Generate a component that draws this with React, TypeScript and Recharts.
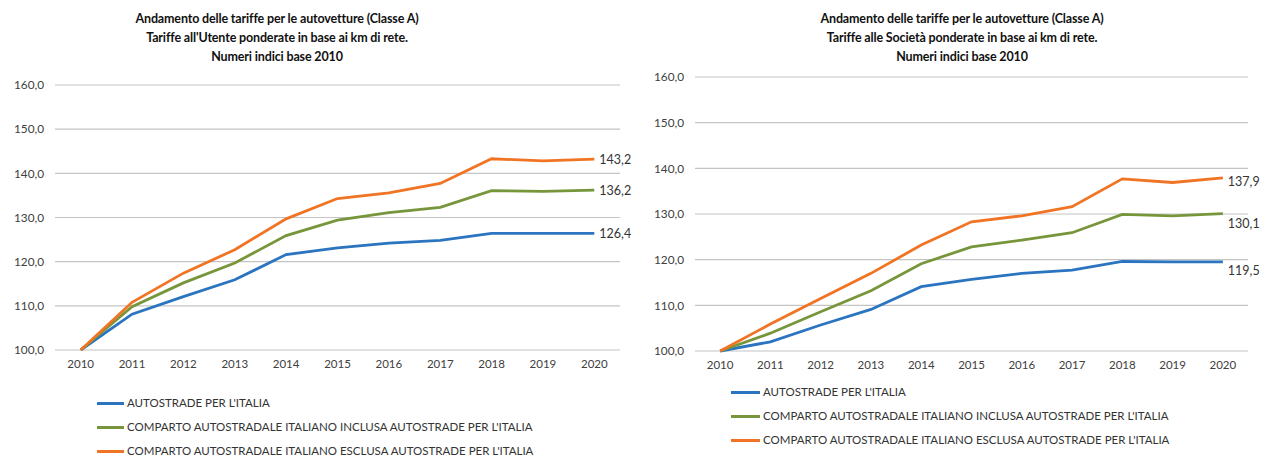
import { LineChart, Line, XAxis, YAxis, CartesianGrid } from 'recharts';

const YEARS = ['2010', '2011', '2012', '2013', '2014', '2015', '2016', '2017', '2018', '2019', '2020'];
const Y_TICKS = [100, 110, 120, 130, 140, 150, 160];

// Tariffe all'Utente
const UTENTE_ASPI = [100, 108.1, 112.1, 115.9, 121.6, 123.1, 124.2, 124.8, 126.4, 126.4, 126.4];
const UTENTE_INCLUSA = [100, 109.8, 115.2, 119.7, 125.9, 129.4, 131.1, 132.3, 136.1, 135.9, 136.2];
const UTENTE_ESCLUSA = [100, 110.8, 117.4, 122.7, 129.7, 134.3, 135.6, 137.7, 143.3, 142.8, 143.2];

// Tariffe alle Società
const SOCIETA_ASPI = [100, 102.0, 105.7, 109.1, 114.1, 115.7, 117.0, 117.7, 119.6, 119.5, 119.5];
const SOCIETA_INCLUSA = [100, 103.9, 108.6, 113.2, 119.1, 122.8, 124.3, 125.9, 129.9, 129.6, 130.1];
const SOCIETA_ESCLUSA = [100, 105.9, 111.5, 117.0, 123.2, 128.3, 129.6, 131.6, 137.7, 136.9, 137.9];

const SERIES_NAMES = [
  "AUTOSTRADE PER L'ITALIA",
  "COMPARTO AUTOSTRADALE ITALIANO INCLUSA AUTOSTRADE PER L'ITALIA",
  "COMPARTO AUTOSTRADALE ITALIANO ESCLUSA AUTOSTRADE PER L'ITALIA",
];
const COLORS = ['#2a74c0', '#77963b', '#f07424'];
const KEYS = ['aspi', 'inclusa', 'esclusa'];

const FONT = 'Lato, "Open Sans", sans-serif';
const fmt = (v: number) => v.toFixed(1).replace('.', ',');

interface ChartProps {
  left: number;
  width: number;
  titleCenter: number;
  titles: string[];
  series: number[][];
  top: number;
  bottom: number;
  labelDy: number[];
  legendTop: number;
  legendLeft: number;
  legendLineW: number;
}

function TariffChart({ left, width, titleCenter, titles, series, top, bottom, labelDy, legendTop, legendLeft, legendLineW }: ChartProps) {
  const data = YEARS.map((year, i) => ({
    year,
    aspi: series[0][i],
    inclusa: series[1][i],
    esclusa: series[2][i],
  }));
  const last = YEARS.length - 1;
  const height = 457;
  const plotW = width - 55 - 22;
  const half = plotW / YEARS.length / 2;

  return (
    <div style={{ position: 'absolute', left, top: 0, width, height }}>
      <div
        style={{
          position: 'absolute',
          left: titleCenter - 200,
          width: 400,
          top: 9,
          textAlign: 'center',
          fontFamily: FONT,
          fontWeight: 700,
          fontSize: 12.5,
          lineHeight: '19px',
          color: '#111',
          letterSpacing: -0.15,
        }}
      >
        {titles.map((t) => (
          <div key={t}>{t}</div>
        ))}
      </div>
      <LineChart
        width={width}
        height={height}
        data={data}
        margin={{ top, right: 22, left: 0, bottom: height - bottom - 30 }}
      >
        <CartesianGrid vertical={false} stroke="#c4c4c4" strokeWidth={1.2} />
        <XAxis
          dataKey="year"
          axisLine={false}
          tickLine={false}
          height={30}
          tickMargin={4}
          padding={{ left: half, right: half }}
          interval={0}
          tick={{ fill: '#404040', fontSize: 11.5, fontFamily: FONT }}
        />
        <YAxis
          width={55}
          domain={[100, 160]}
          ticks={Y_TICKS}
          axisLine={false}
          tickLine={false}
          tickFormatter={fmt}
          tick={{ fill: '#404040', fontSize: 11.8, fontFamily: FONT, dx: -3 }}
        />
        {KEYS.map((k, si) => (
          <Line
            key={k}
            dataKey={k}
            type="linear"
            stroke={COLORS[si]}
            strokeWidth={2.8}
            dot={false}
            activeDot={false}
            isAnimationActive={false}
            label={(p: any) =>
              p.index === last ? (
                <text
                  key={`lbl-${k}`}
                  x={p.x + 5}
                  y={p.y + labelDy[si]}
                  dominantBaseline="central"
                  fill="#333"
                  fontSize={12.5}
                  fontFamily={FONT}
                >
                  {fmt(p.value)}
                </text>
              ) : (
                <g key={`lbl-${k}-${p.index}`} />
              )
            }
          />
        ))}
      </LineChart>
      <div style={{ position: 'absolute', left: legendLeft, top: legendTop, fontFamily: FONT, fontSize: 11.5, lineHeight: '14px', color: '#333' }}>
        {SERIES_NAMES.map((name, i) => (
          <div key={name} style={{ display: 'flex', alignItems: 'center', height: 24 }}>
            <span style={{ display: 'inline-block', width: legendLineW, height: 3, background: COLORS[i], marginRight: 3 }} />
            <span>{name}</span>
          </div>
        ))}
      </div>
    </div>
  );
}

export default function App() {
  return (
    <div style={{ position: 'absolute', left: 0, top: 0, width: 1270, height: 457, background: '#fff', overflow: 'hidden' }}>
      <TariffChart
        left={0}
        width={642}
        titleCenter={277}
        titles={[
          'Andamento delle tariffe per le autovetture (Classe A)',
          "Tariffe all'Utente ponderate in base ai km di rete.",
          'Numeri indici base 2010',
        ]}
        series={[UTENTE_ASPI, UTENTE_INCLUSA, UTENTE_ESCLUSA]}
        top={85}
        bottom={350}
        labelDy={[0, 0, 0]}
        legendTop={391}
        legendLeft={97}
        legendLineW={27}
      />
      <TariffChart
        left={640}
        width={630}
        titleCenter={322}
        titles={[
          'Andamento delle tariffe per le autovetture (Classe A)',
          'Tariffe alle Società ponderate in base ai km di rete.',
          'Numeri indici base 2010',
        ]}
        series={[SOCIETA_ASPI, SOCIETA_INCLUSA, SOCIETA_ESCLUSA]}
        top={77}
        bottom={351}
        labelDy={[9, 10, 4]}
        legendTop={380}
        legendLeft={91}
        legendLineW={29}
      />
    </div>
  );
}
